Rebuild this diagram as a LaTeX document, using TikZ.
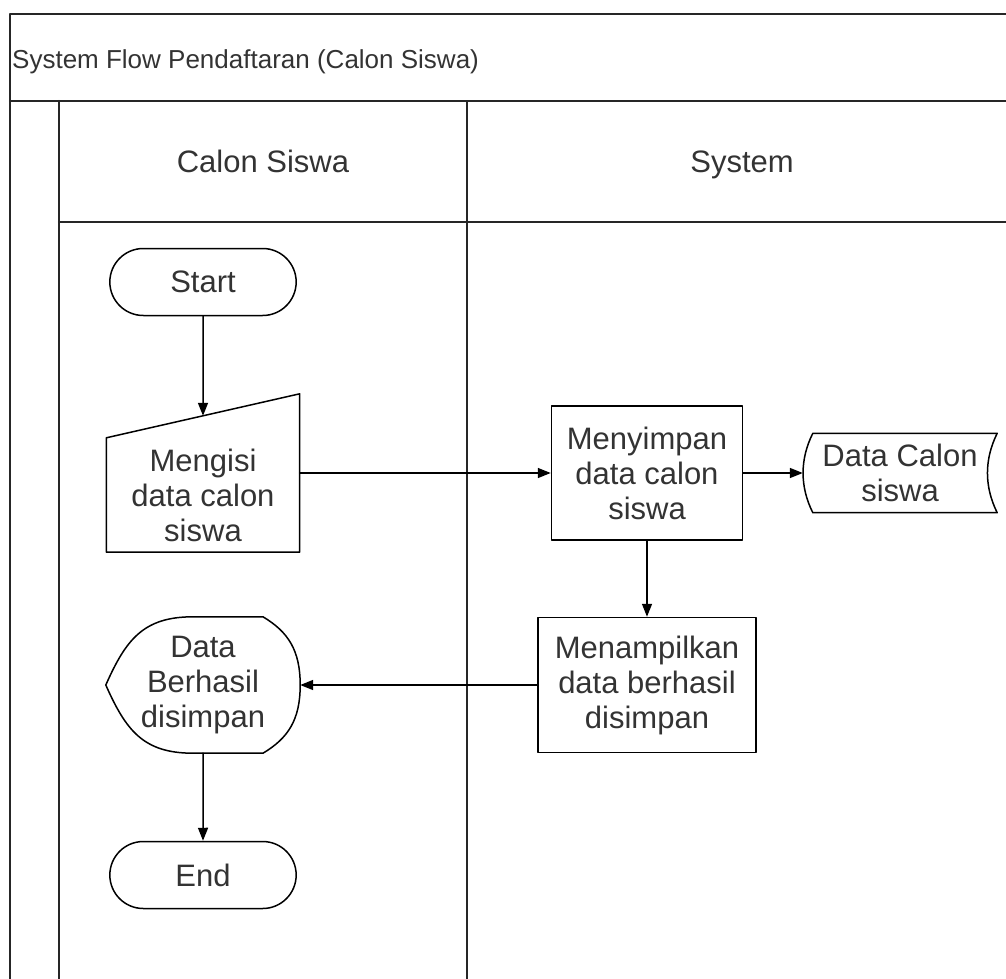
\documentclass[tikz,border=0pt]{standalone}
\usepackage{fontspec}
\setmainfont{Liberation Sans}
\usetikzlibrary{arrows.meta,shapes.misc}

\begin{document}
\begin{tikzpicture}[x=1pt,y=-1pt,line cap=round,line join=round,>={Triangle[length=13pt,width=10pt]},
	lane/.style={line width=2.2pt,draw=black!85},
	txt/.style={font=\fontsize{31}{35}\selectfont,text=black!80,align=center},
	terminal/.style={txt,draw,line width=1.5pt,rounded rectangle,minimum width=193pt,minimum height=67pt},
	proses/.style={txt,draw,line width=1.5pt,rectangle,inner sep=0pt},
	blank/.style={txt,inner sep=0pt},
	flow/.style={->,line width=1.5pt}]
			\useasboundingbox (0,0) rectangle (1006,979);
			% swimlanes
			\draw[lane] (10,979) -- (10,14) -- (1006,14);
			\draw[lane] (10,101) -- (1006,101);
			\draw[lane] (59,101) -- (59,979);
			\draw[lane] (59,222) -- (1006,222);
			\draw[lane,line width=1.8pt] (467,101) -- (467,979);
			\node[anchor=west,inner sep=0pt,font=\fontsize{26}{30}\selectfont,text=black!80] (judul) at (12,62) {System Flow Pendaftaran (Calon Siswa)};
			\node[txt,anchor=base] (lanesiswa) at (263,172) {Calon Siswa};
			\node[txt,anchor=base] (lanesistem) at (742,172) {System};
			% Calon Siswa
			\node[terminal] (start) at (203,282) {Start};
			\node[blank,minimum width=193pt,minimum height=114pt] (isi) at (203,495) {Mengisi\\data calon\\siswa};
			\draw[line width=1.5pt] (isi.south west) -- (isi.south east) -- ([yshift=44pt]isi.north east) -- (isi.north west) -- cycle;
			\node[blank,minimum width=194pt,minimum height=136pt] (hasil) at (203,685) {Data\\Berhasil\\disimpan};
			\draw[line width=1.5pt] (hasil.west) .. controls +(20,-45) and +(-50,0) .. ([xshift=-10pt]hasil.north) -- ([xshift=60pt]hasil.north)
				.. controls +(25,15) and +(0,-35) .. (hasil.east) .. controls +(0,35) and +(25,-15) .. ([xshift=60pt]hasil.south)
				-- ([xshift=-10pt]hasil.south) .. controls +(-50,0) and +(20,45) .. (hasil.west);
			\node[terminal] (selesai) at (203,875) {End};
			% System
			\node[proses,minimum width=191pt,minimum height=134pt] (simpan) at (647,473) {Menyimpan\\data calon\\siswa};
			\node[proses,minimum width=218pt,minimum height=135pt] (tampil) at (647,685) {Menampilkan\\data berhasil\\disimpan};
			\node[blank,minimum width=184pt,minimum height=79pt] (dbsiswa) at (900,473) {Data Calon\\siswa};
			\draw[line width=1.5pt] ([xshift=5pt]dbsiswa.north west) -- ([xshift=5pt]dbsiswa.north east)
				.. controls +(-13,26) and +(-13,-26) .. ([xshift=5pt]dbsiswa.south east) -- ([xshift=5pt]dbsiswa.south west)
				.. controls +(-13,-26) and +(-13,26) .. ([xshift=5pt]dbsiswa.north west);
			% alur
			\draw[flow] (start) -- ([yshift=22pt]isi.north);
			\draw[flow] (simpan.west -| isi.east) -- (simpan.west);
			\draw[flow] (simpan.east) -- ([xshift=-5pt]dbsiswa.west);
			\draw[flow] (simpan) -- (tampil);
			\draw[flow] (tampil.west) -- (hasil.east);
			\draw[flow] (hasil) -- (selesai);
		\end{tikzpicture}
\end{document}
